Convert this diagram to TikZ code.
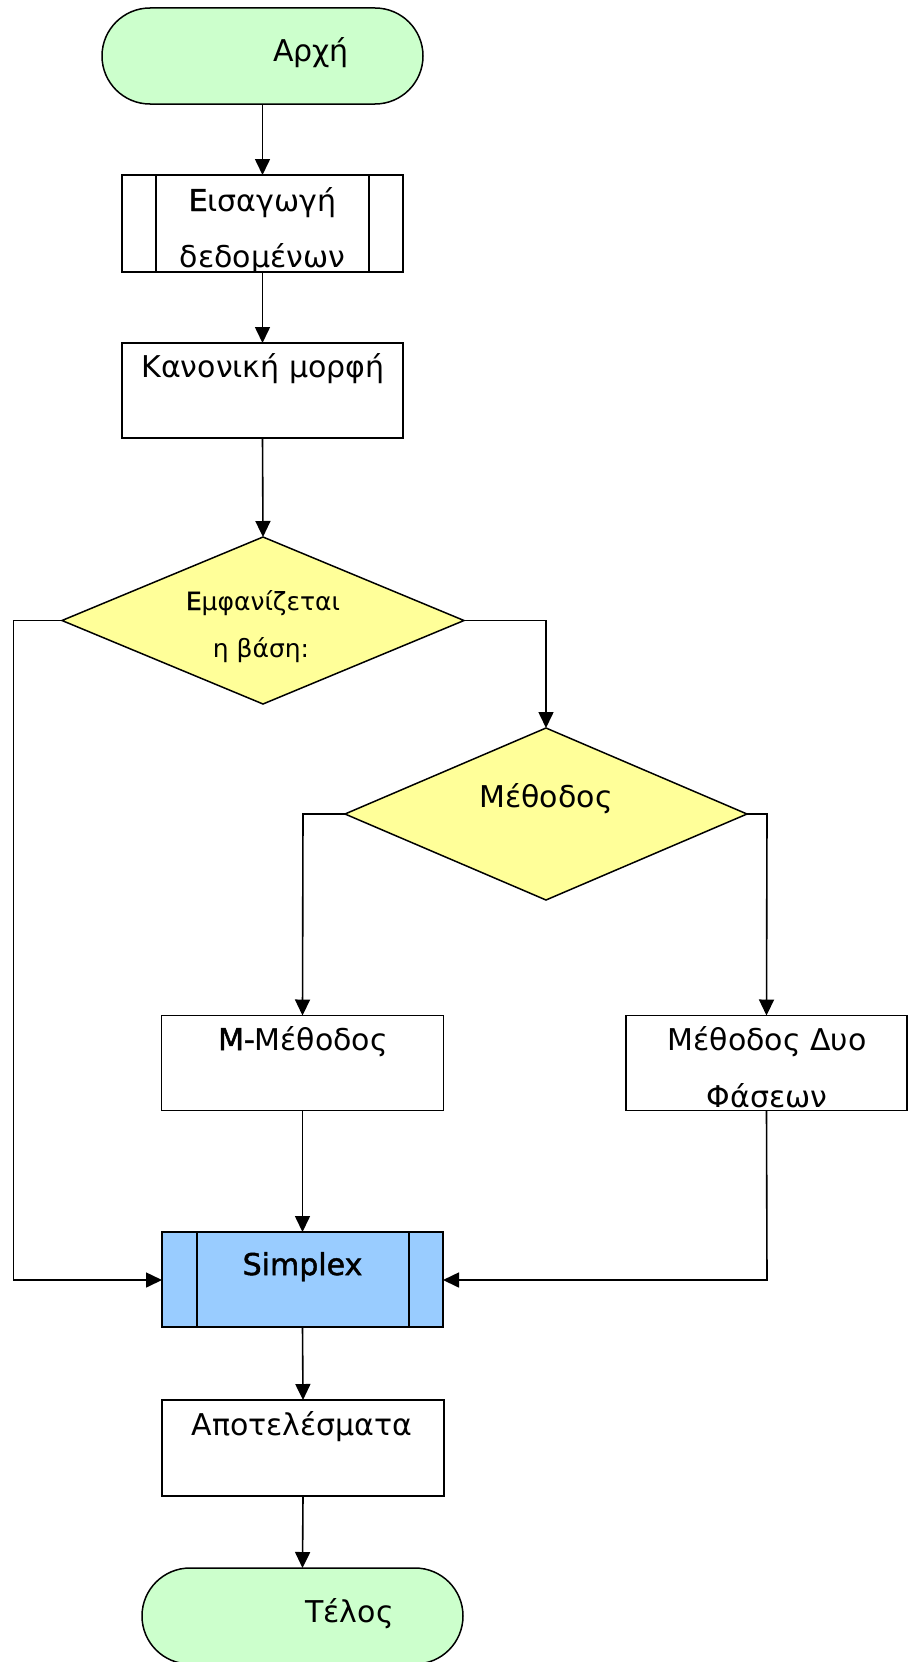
\documentclass[tikz,border=0pt]{standalone}
\usepackage{fontspec}
\setmainfont{DejaVu Sans}
\newfontfamily\semibold[FakeBold=1.6]{DejaVu Sans}
\usetikzlibrary{shapes.geometric,arrows.meta}
\definecolor{termgreen}{HTML}{CCFFCC}
\definecolor{decyellow}{HTML}{FFFF99}
\definecolor{procblue}{HTML}{99CCFF}
\tikzset{
  shapebase/.style={draw=black, line width=1.5pt, inner sep=0pt, outer sep=0pt},
  terminal/.style={shapebase, fill=termgreen, rectangle, rounded corners=48pt, minimum width=321pt, minimum height=96pt},
  procbox/.style={shapebase, fill=white, rectangle, minimum width=282pt, minimum height=96pt},
  decision/.style={shapebase, fill=decyellow, diamond, minimum width=402pt},
  txt/.style={inner sep=0pt, anchor=base, font=\fontsize{30}{36}\selectfont},
  smalltxt/.style={inner sep=0pt, anchor=base, font=\fontsize{25}{30}\selectfont},
  conn/.style={line width=1.6pt, -{Triangle[length=16pt,width=15pt]}}
}
\begin{document}
\begin{tikzpicture}[x=1pt,y=-1pt]
\useasboundingbox (0,0) rectangle (910,1662);
% shapes
\node[terminal] (start) at (262.5,56) {};
\node[procbox, minimum width=281pt, minimum height=97pt] (input) at (262.5,223.5) {};
\draw[line width=1.5pt] ([xshift=34pt]input.north west) -- ([xshift=34pt]input.south west);
\draw[line width=1.5pt] ([xshift=-34pt]input.north east) -- ([xshift=-34pt]input.south east);
\node[procbox, minimum width=281pt, minimum height=95pt] (canon) at (262.5,390.5) {};
\node[decision, minimum height=167pt] (dec1) at (263,620.5) {};
\node[decision, minimum height=172pt] (dec2) at (546,814) {};
\node[procbox, minimum width=282pt, minimum height=95pt] (mm) at (302.5,1063) {};
\node[procbox, minimum width=281pt, minimum height=95pt] (twop) at (766.5,1063) {};
\node[procbox, fill=procblue, minimum width=281pt, minimum height=95pt] (simplex) at (302.5,1279.5) {};
\draw[line width=1.5pt] ([xshift=35pt]simplex.north west) -- ([xshift=35pt]simplex.south west);
\draw[line width=1.5pt] ([xshift=-34pt]simplex.north east) -- ([xshift=-34pt]simplex.south east);
\node[procbox, minimum width=282pt, minimum height=96pt] (res) at (303,1448) {};
\node[terminal] (stop) at (302.5,1616) {};
% texts
\node[txt] (tstart) at (311,62) {Αρχή};
\begin{scope}
\clip (input.north west) rectangle (input.south east);
\node[txt] (tin1) at (262.5,211) {{\semibold E}ισαγωγή};
\node[txt] (tin2) at (262.5,267) {δεδομένων};
\end{scope}
\node[txt] (tcanon) at (263,377) {Κανονική μορφή};
\node[smalltxt] (td1a) at (263,610) {{\semibold E}μφανίζεται};
\node[smalltxt] (td1b) at (261,657) {η βάση:};
\node[txt] (td2) at (546,807) {Μέθοδος};
\node[txt] (tmm) at (303,1050) {{\semibold M-}Μέθοδος};
\begin{scope}
\clip (twop.north west) rectangle (twop.south east);
\node[txt] (ttp1) at (767,1050) {Μέθοδος Δυο};
\node[txt] (ttp2) at (767,1107) {Φάσεων};
\end{scope}
\node[txt] (tsimplex) at (302.5,1275) {\semibold Simplex};
\node[txt] (tres) at (302,1435) {Αποτελέσματα};
\node[txt] (tstop) at (349.5,1622) {Τέλος};
% connectors
\coordinate (lc) at (13.5,620.5);
\coordinate (lb) at (13.5,1280);
\coordinate (rc) at (546,620.5);
\coordinate (d2l) at (303,814);
\coordinate (d2r) at (767,814);
\coordinate (tpb) at (767,1280);
\draw[conn] (start.south) -- (input.north);
\draw[conn] (input.south) -- (canon.north);
\draw[conn] (canon.south) -- (dec1.north);
\draw[conn] (dec1.west) -- (lc) -- (lb) -- (simplex.west |- lb);
\draw[conn] (dec1.east) -- (rc) -- (dec2.north);
\draw[conn] (dec2.west) -- (d2l) -- (mm.north);
\draw[conn] (dec2.east) -- (d2r) -- (twop.north);
\draw[conn] (mm.south) -- (simplex.north);
\draw[conn] (twop.south) -- (tpb) -- (simplex.east |- tpb);
\draw[conn] (simplex.south) -- (res.north);
\draw[conn] (res.south) -- (stop.north);
\end{tikzpicture}
\end{document}
